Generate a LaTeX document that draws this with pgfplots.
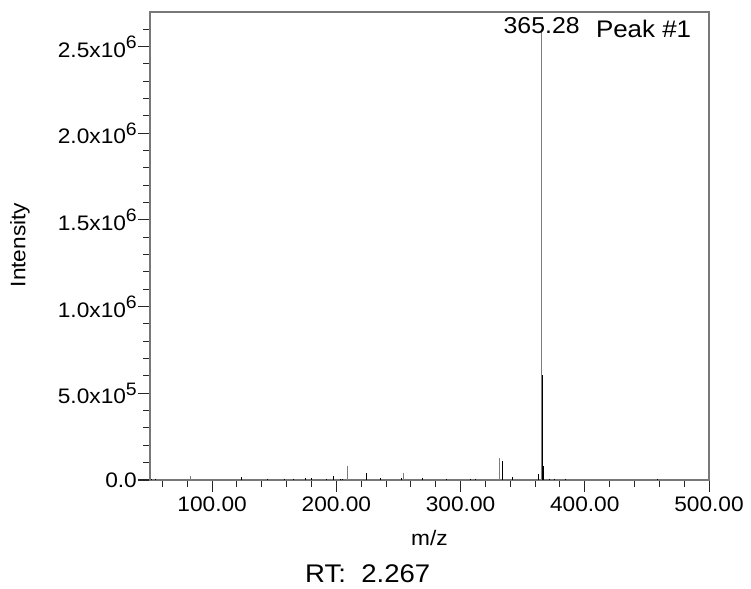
\documentclass[border=0pt]{standalone}
\usepackage{fontspec}
\setmainfont{Liberation Sans}[FakeStretch=1.08]
\usepackage{pgfplots}
\pgfplotsset{compat=1.18}
\usetikzlibrary{calc}
\definecolor{axgray}{RGB}{120,120,120}
\definecolor{pkgray}{RGB}{125,125,125}
\newcommand{\sci}[2]{#1x10\raisebox{8.4pt}{\fontsize{18}{18}\selectfont #2}}
\begin{document}
\begin{tikzpicture}
\begin{axis}[
  scale only axis, width=559pt, height=468pt,
  xmin=50, xmax=500, ymin=0, ymax=2.7e6,
  clip=false,
  axis line style={draw=axgray, line width=1.5pt},
  tick pos=left, tick align=outside,
  major tick length=12pt, minor tick length=7pt,
  every tick/.style={draw=black!85, line width=1pt},
  xtick={100,200,300,400,500},
  xticklabels={100.00,200.00,300.00,400.00,500.00},
  minor xtick={60,80,120,140,160,180,220,240,260,280,320,340,360,380,420,440,460,480},
  ytick={0,5e5,1e6,1.5e6,2e6,2.5e6},
  yticklabels={0.0,\sci{5.0}{5},\sci{1.0}{6},\sci{1.5}{6},\sci{2.0}{6},\sci{2.5}{6}},
  minor ytick={1e5,2e5,3e5,4e5,6e5,7e5,8e5,9e5,1.1e6,1.2e6,1.3e6,1.4e6,1.6e6,1.7e6,1.8e6,1.9e6,2.1e6,2.2e6,2.3e6,2.4e6,2.6e6},
  xticklabel style={font=\fontsize{21}{24}\selectfont, inner sep=0pt, anchor=north, yshift=-5pt},
  yticklabel style={font=\fontsize{21}{24}\selectfont, inner sep=0pt, anchor=east, xshift=-1pt},
  scaled ticks=false,
]
\addplot+[ycomb, no markers, draw=pkgray, line width=1pt] coordinates {
 (82.3,2.3e4) (208.8,8.1e4) (253.9,4.2e4) (331.7,1.25e5) (365.28,2.6e6)
};
\addplot+[ycomb, no markers, draw=black, line width=1pt] coordinates {
 (50.9,6e3) (54.4,5e3) (123.3,1.5e4) (144.7,4e3) (158.2,4e3) (165.4,4e3)
 (174.8,1.2e4) (180.4,1e4) (191.7,5e3) (197.8,2.5e4) (203.0,5e3) (205.1,5e3)
 (223.9,3.9e4) (235.4,1e4) (252.8,1.2e4) (269.0,1e4) (288.8,5e3) (308.4,6e3)
 (311.8,6e3) (333.8,1.1e5) (341.6,1.6e4) (362.8,3.3e4) (366.8,8e4) (371.3,5e3)
 (375.3,4e3) (384.7,4e3) (458.5,6e3)
};
\addplot+[ycomb, no markers, draw=black, line width=1.8pt] coordinates {
 (365.9,6.05e5)
};
\node[anchor=base, inner sep=0pt, font=\fontsize{23}{26}\selectfont] at (axis cs:365.28,2.578e6) {365.28};
\node[anchor=base west, inner sep=0pt, font=\fontsize{24}{27}\selectfont] at (axis cs:408.9,2.551e6) {Peak \#1};
\coordinate (O) at (rel axis cs:0,0);
\end{axis}
\pgfresetboundingbox
\path[use as bounding box] ($(O)+(-150pt,-108pt)$) rectangle ($(O)+(601pt,480pt)$);
\node[anchor=base, inner sep=0pt, font=\fontsize{21}{24}\selectfont] at ($(O)+(279.5pt,-65pt)$) {m/z};
\node[anchor=base west, inner sep=0pt, font=\fontsize{25.5}{28}\selectfont] at ($(O)+(155pt,-102pt)$) {RT:\ \ 2.267};
\node[rotate=90, inner sep=0pt, font=\fontsize{21}{24}\selectfont] at ($(O)+(-130pt,235pt)$) {Intensity};
\end{tikzpicture}
\end{document}
